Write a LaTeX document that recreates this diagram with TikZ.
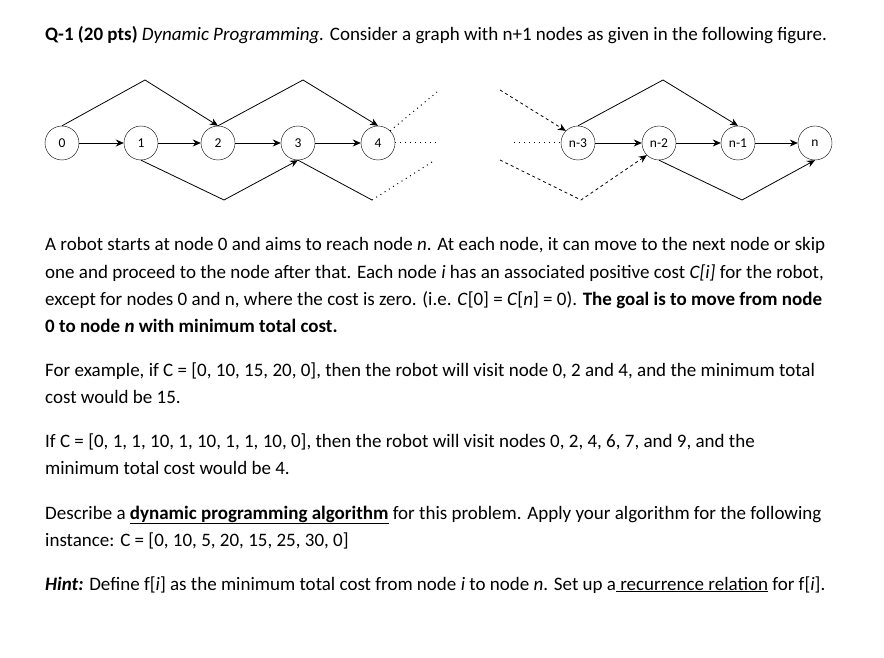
\documentclass[tikz,border=0pt]{standalone}
\usepackage{fontspec}
\setmainfont{Carlito}
\usetikzlibrary{arrows.meta}
\tikzset{
  vtx/.style={draw,circle,minimum size=34pt,inner sep=0pt,font=\fontsize{13.5}{15}\selectfont},
  edge/.style={-{Stealth[length=8pt,width=7pt]},line width=0.8pt},
  plain/.style={line width=0.8pt},
  sparse/.style={line width=1pt,dash pattern=on 1pt off 4pt},
  txt/.style={anchor=base west,inner sep=0pt,font=\fontsize{19}{22}\selectfont}
}
\begin{document}
\begin{tikzpicture}[x=1pt,y=-1pt]
  \useasboundingbox[fill=white] (0,0) rectangle (884,658);

  % title
  \node[txt] (title) at (45,41) {\textbf{Q-1 (20 pts)} \textit{Dynamic Programming.} Consider a graph with n+1 nodes as given in the following figure.};

  % left part of the graph
  \node[vtx] (n0) at (62,143) {0};
  \node[vtx] (n1) at (141,143) {1};
  \node[vtx] (n2) at (218,143) {2};
  \node[vtx] (n3) at (298,143) {3};
  \node[vtx] (n4) at (378,143) {4};
  \coordinate (t02) at (145,80);
  \coordinate (t24) at (303,80);
  \coordinate (b13) at (224,200);
  \coordinate (b3x) at (372,200);
  \coordinate (d4a) at (437,92);
  \coordinate (d4b) at (437,143);
  \coordinate (d4c) at (432,162);

  \draw[edge] (n0) -- (n1);
  \draw[edge] (n1) -- (n2);
  \draw[edge] (n2) -- (n3);
  \draw[edge] (n3) -- (n4);
  \draw[edge] (n0.north) -- (t02) -- (n2.north);
  \draw[edge] (n2.north) -- (t24) -- (n4.north);
  \draw[edge] (n1.south) -- (b13) -- (n3.south);
  \draw[plain] (n3.south) -- (b3x);
  \draw[sparse] (b3x) -- (d4c);
  \draw[sparse] (n4.north east) -- (d4a);
  \draw[sparse] (n4.east) -- (d4b);

  % right part of the graph
  \node[vtx] (m3) at (578,143) {n-3};
  \node[vtx] (m2) at (659,143) {n-2};
  \node[vtx] (m1) at (738,143) {n-1};
  \node[vtx] (mn) at (815,143) {n};
  \coordinate (s3a) at (500,90);
  \coordinate (s3b) at (514,143);
  \coordinate (s2a) at (500,160);
  \coordinate (b2x) at (581,200);
  \coordinate (t31) at (663,80);
  \coordinate (b2n) at (742,200);

  \draw[edge] (m3) -- (m2);
  \draw[edge] (m2) -- (m1);
  \draw[edge] (m1) -- (mn);
  \draw[edge,dashed] (s3a) -- (m3.north west);
  \draw[sparse] (s3b) -- (m3.west);
  \draw[edge,dashed] (s2a) -- (b2x) -- (m2.south west);
  \draw[edge] (m3.north) -- (t31) -- (m1.north);
  \draw[edge] (m2.south) -- (b2n) -- (mn.south);

  % problem text
  \node[txt] (p1) at (45,251) {A robot starts at node 0 and aims to reach node \textit{n}. At each node, it can move to the next node or skip};
  \node[txt] (p2) at (45,278) {one and proceed to the node after that. Each node \textit{i} has an associated positive cost \textit{C[i]} for the robot,};
  \node[txt] (p3) at (45,305) {except for nodes 0 and n, where the cost is zero. (i.e. \textit{C}[0] = \textit{C}[\textit{n}] = 0). \textbf{The goal is to move from node}};
  \node[txt] (p4) at (45,332) {\textbf{0 to node \textit{n} with minimum total cost.}};

  \node[txt] (e1) at (45,376) {For example, if C = [0, 10, 15, 20, 0], then the robot will visit node 0, 2 and 4, and the minimum total};
  \node[txt] (e2) at (45,403) {cost would be 15.};

  \node[txt] (e3) at (45,447) {If C = [0, 1, 1, 10, 1, 10, 1, 1, 10, 0], then the robot will visit nodes 0, 2, 4, 6, 7, and 9, and the};
  \node[txt] (e4) at (45,474) {minimum total cost would be 4.};

  \node[txt] (q1) at (45,519) {Describe a \underline{\textbf{dynamic programming algorithm}} for this problem. Apply your algorithm for the following};
  \node[txt] (q2) at (45,546) {instance: C = [0, 10, 5, 20, 15, 25, 30, 0]};

  \node[txt] (h1) at (45,590) {\textbf{\textit{Hint:}} Define f[\textit{i}] as the minimum total cost from node \textit{i} to node \textit{n}. Set up a\underline{ recurrence relation} for f[\textit{i}].};
\end{tikzpicture}
\end{document}
